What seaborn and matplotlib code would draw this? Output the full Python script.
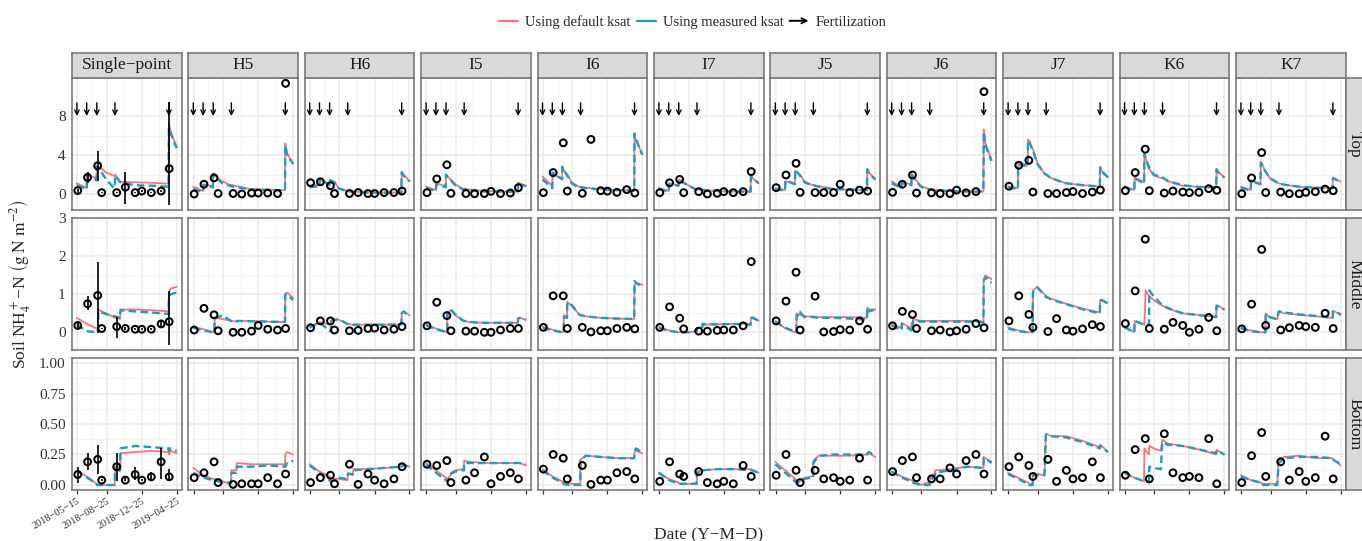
import matplotlib
matplotlib.use("Agg")
import numpy as np
import pandas as pd
import matplotlib.pyplot as plt
import matplotlib.dates as mdates
import seaborn as sns
from matplotlib.patches import FancyArrowPatch
from matplotlib.legend_handler import HandlerBase
from matplotlib.lines import Line2D

# ---------------- data ----------------
sites = ["Single\u2212point", "H5", "H6", "I5", "I6", "I7", "J5", "J6", "J7", "K6", "K7"]
layers = ["Top", "Middle", "Bottom"]
series_names = ["Using default ksat", "Using measured ksat"]

node_dates = ["2018-05-14", "2018-06-17", "2018-06-18", "2018-07-21", "2018-07-22",
              "2018-07-26", "2018-07-27", "2018-08-07", "2018-08-08", "2018-08-23",
              "2018-09-17", "2018-09-22", "2018-09-23", "2018-10-11", "2018-10-12",
              "2018-12-01", "2019-01-30", "2019-03-28", "2019-03-29", "2019-04-04",
              "2019-04-25"]
obs_dates = ["2018-05-17", "2018-06-20", "2018-07-25", "2018-08-08", "2018-09-29",
             "2018-10-29", "2018-12-02", "2018-12-25", "2019-01-27", "2019-03-02",
             "2019-03-30"]
fert_dates = ["2018-05-14", "2018-06-17", "2018-07-22", "2018-09-23", "2019-03-29"]
date_breaks = ["2018-05-15", "2018-08-25", "2018-12-25", "2019-04-25"]
date_labels = ["2018\u221205\u221215", "2018\u221208\u221225", "2018\u221212\u221225", "2019\u221204\u221225"]

top_default = [
    [1.1, 0.6, 2.0, 1.6, 2.9, 2.8, 2.8, 2.6, 2.6, 2.2, 1.9, 1.8, 2.0, 1.25, 1.25, 1.2, 1.15, 1.05, 7.3, 6.4, 4.8],
    [0.75, 0.3, 1.0, 0.8, 2.0, 1.9, 1.9, 1.6, 1.6, 1.3, 0.95, 0.9, 0.95, 0.8, 0.8, 0.5, 0.45, 0.4, 5.2, 4.2, 3.1],
    [0.9, 0.9, 1.5, 1.0, 1.4, 1.35, 1.35, 1.2, 1.2, 0.6, 0.35, 0.3, 0.35, 0.25, 0.25, 0.15, 0.15, 0.15, 2.3, 2.0, 1.3],
    [0.75, 0.4, 1.1, 0.8, 1.9, 1.8, 1.8, 1.5, 1.5, 1.0, 0.55, 0.5, 0.55, 0.45, 0.45, 0.3, 0.25, 0.25, 1.2, 1.1, 0.85],
    [1.8, 0.8, 2.0, 1.6, 2.7, 2.5, 2.5, 2.0, 2.0, 1.2, 0.75, 0.7, 0.75, 0.65, 0.65, 0.5, 0.4, 0.35, 6.0, 5.4, 4.1],
    [0.6, 0.3, 1.1, 0.9, 1.5, 1.45, 1.45, 1.2, 1.2, 0.9, 0.55, 0.5, 0.5, 0.4, 0.4, 0.3, 0.25, 0.25, 1.9, 1.6, 1.1],
    [0.6, 0.4, 1.3, 1.1, 2.4, 2.3, 2.3, 2.0, 2.0, 1.3, 0.95, 0.9, 0.9, 0.8, 0.8, 0.5, 0.45, 0.4, 2.6, 2.2, 1.5],
    [1.3, 0.7, 1.2, 1.0, 1.9, 1.8, 1.8, 1.4, 1.4, 0.8, 0.55, 0.5, 0.5, 0.4, 0.4, 0.3, 0.25, 0.25, 6.6, 5.2, 3.5],
    [0.8, 0.6, 3.2, 3.0, 5.6, 5.4, 5.4, 4.6, 4.6, 3.2, 2.1, 2.0, 2.0, 1.6, 1.6, 1.1, 0.9, 0.78, 2.8, 2.4, 1.7],
    [0.8, 0.4, 1.7, 1.2, 4.0, 3.6, 3.6, 2.6, 2.6, 1.9, 1.65, 1.6, 1.65, 1.3, 1.3, 0.85, 0.72, 0.7, 2.6, 2.3, 1.7],
    [0.75, 0.4, 1.4, 1.0, 3.3, 3.0, 3.0, 2.3, 2.3, 1.6, 1.15, 1.1, 1.1, 0.95, 0.95, 0.75, 0.65, 0.6, 1.7, 1.6, 1.25],
]
top_measured = [
    [0.9, 0.5, 2.1, 1.4, 2.8, 2.6, 2.6, 2.2, 2.2, 1.5, 0.7, 0.6, 1.9, 1.2, 1.2, 0.9, 0.85, 0.75, 6.8, 6.2, 4.7],
    [0.5, 0.2, 0.9, 0.7, 2.1, 1.9, 1.9, 1.5, 1.5, 1.1, 0.85, 0.8, 0.8, 0.7, 0.7, 0.45, 0.4, 0.4, 5.0, 4.0, 3.1],
    [0.7, 0.8, 1.6, 0.9, 1.5, 1.4, 1.4, 1.2, 1.2, 0.55, 0.32, 0.28, 0.3, 0.22, 0.22, 0.15, 0.15, 0.15, 2.2, 1.9, 1.3],
    [0.6, 0.3, 1.0, 0.7, 2.0, 1.8, 1.8, 1.4, 1.4, 0.9, 0.5, 0.45, 0.5, 0.4, 0.4, 0.25, 0.25, 0.25, 1.0, 1.0, 0.8],
    [1.5, 0.6, 2.2, 1.5, 2.8, 2.5, 2.5, 1.9, 1.9, 1.1, 0.65, 0.6, 0.7, 0.6, 0.6, 0.45, 0.4, 0.35, 6.2, 5.6, 4.0],
    [0.5, 0.25, 1.0, 0.85, 1.5, 1.4, 1.4, 1.15, 1.15, 0.85, 0.5, 0.45, 0.5, 0.4, 0.4, 0.3, 0.25, 0.25, 1.8, 1.6, 1.1],
    [0.5, 0.35, 1.4, 1.0, 2.5, 2.3, 2.3, 1.9, 1.9, 1.2, 0.9, 0.85, 0.9, 0.75, 0.75, 0.5, 0.45, 0.4, 2.5, 2.1, 1.5],
    [1.1, 0.6, 1.1, 0.9, 2.0, 1.8, 1.8, 1.3, 1.3, 0.75, 0.5, 0.45, 0.5, 0.4, 0.4, 0.3, 0.25, 0.25, 6.4, 5.0, 3.4],
    [0.7, 0.5, 3.0, 2.9, 5.5, 5.3, 5.3, 4.5, 4.5, 3.1, 2.1, 2.0, 2.0, 1.6, 1.6, 1.1, 0.9, 0.78, 2.7, 2.3, 1.7],
    [0.7, 0.35, 1.6, 1.1, 4.1, 3.7, 3.7, 2.7, 2.7, 2.0, 1.75, 1.7, 1.7, 1.35, 1.35, 0.9, 0.72, 0.68, 2.5, 2.2, 1.7],
    [0.65, 0.35, 1.35, 1.0, 3.2, 3.0, 3.0, 2.3, 2.3, 1.6, 1.2, 1.15, 1.15, 0.95, 0.95, 0.75, 0.65, 0.6, 1.6, 1.55, 1.2],
]
mid_default = [
    [0.38, 0.22, 0.22, 0.1, 0.1, 0.08, 0.6, 0.55, 0.55, 0.5, 0.4, 0.38, 0.38, 0.35, 0.6, 0.6, 0.58, 0.55, 1.05, 1.15, 1.2],
    [0.15, 0.08, 0.08, 0.01, 0.01, 0.0, 0.4, 0.37, 0.37, 0.35, 0.31, 0.3, 0.3, 0.28, 0.3, 0.3, 0.28, 0.27, 1.0, 1.05, 0.9],
    [0.15, 0.27, 0.27, 0.2, 0.2, 0.2, 0.3, 0.32, 0.32, 0.33, 0.24, 0.22, 0.22, 0.2, 0.2, 0.2, 0.2, 0.21, 0.5, 0.55, 0.45],
    [0.2, 0.1, 0.1, 0.02, 0.02, 0.0, 0.5, 0.58, 0.58, 0.45, 0.32, 0.3, 0.3, 0.27, 0.27, 0.25, 0.25, 0.25, 0.38, 0.38, 0.33],
    [0.15, 0.07, 0.07, 0.01, 0.01, 0.0, 0.45, 0.4, 0.8, 0.7, 0.48, 0.45, 0.45, 0.42, 0.42, 0.38, 0.36, 0.35, 1.25, 1.3, 1.25],
    [0.15, 0.05, 0.05, 0.0, 0.0, 0.0, 0.0, 0.0, 0.0, 0.0, 0.02, 0.02, 0.12, 0.12, 0.2, 0.21, 0.22, 0.22, 0.38, 0.4, 0.3],
    [0.3, 0.1, 0.1, 0.0, 0.0, 0.0, 0.5, 0.45, 0.55, 0.42, 0.42, 0.42, 0.42, 0.4, 0.4, 0.4, 0.4, 0.38, 0.65, 0.6, 0.6],
    [0.2, 0.12, 0.25, 0.1, 0.25, 0.2, 0.35, 0.33, 0.33, 0.3, 0.3, 0.3, 0.3, 0.3, 0.3, 0.3, 0.3, 0.28, 1.4, 1.5, 1.4],
    [0.13, 0.05, 0.05, 0.0, 0.0, 0.0, 0.0, 0.0, 1.1, 1.2, 1.0, 0.95, 0.95, 0.88, 0.88, 0.75, 0.62, 0.52, 0.85, 0.85, 0.78],
    [0.15, 0.0, 0.3, 0.2, 0.2, 1.1, 1.1, 0.95, 0.95, 0.85, 0.72, 0.7, 0.7, 0.62, 0.62, 0.5, 0.45, 0.4, 0.7, 0.7, 0.6],
    [0.1, 0.05, 0.05, 0.0, 0.0, 0.0, 0.0, 0.0, 0.5, 0.38, 0.34, 0.55, 0.55, 0.5, 0.5, 0.46, 0.42, 0.38, 0.55, 0.55, 0.45],
]
mid_measured = [
    [0.2, 0.03, 0.03, 0.0, 0.0, 0.0, 0.55, 0.52, 0.52, 0.48, 0.43, 0.42, 0.42, 0.38, 0.58, 0.55, 0.52, 0.48, 0.95, 1.0, 1.05],
    [0.12, 0.05, 0.05, 0.0, 0.0, 0.0, 0.35, 0.4, 0.4, 0.45, 0.32, 0.3, 0.3, 0.28, 0.3, 0.29, 0.28, 0.27, 1.0, 1.0, 0.85],
    [0.13, 0.25, 0.25, 0.05, 0.05, 0.02, 0.3, 0.33, 0.33, 0.35, 0.24, 0.22, 0.22, 0.2, 0.2, 0.2, 0.2, 0.21, 0.5, 0.55, 0.42],
    [0.18, 0.08, 0.08, 0.01, 0.01, 0.0, 0.55, 0.6, 0.6, 0.47, 0.32, 0.3, 0.3, 0.27, 0.27, 0.25, 0.25, 0.25, 0.36, 0.38, 0.33],
    [0.12, 0.05, 0.05, 0.0, 0.0, 0.0, 0.4, 0.38, 0.78, 0.72, 0.48, 0.45, 0.45, 0.42, 0.42, 0.38, 0.36, 0.35, 1.35, 1.3, 1.2],
    [0.12, 0.04, 0.04, 0.0, 0.0, 0.0, 0.0, 0.0, 0.0, 0.0, 0.02, 0.02, 0.1, 0.1, 0.22, 0.21, 0.22, 0.2, 0.38, 0.38, 0.3],
    [0.28, 0.12, 0.12, 0.02, 0.02, 0.0, 0.45, 0.42, 0.5, 0.4, 0.4, 0.4, 0.4, 0.38, 0.38, 0.38, 0.36, 0.33, 0.65, 0.55, 0.6],
    [0.18, 0.05, 0.22, 0.05, 0.2, 0.15, 0.3, 0.3, 0.3, 0.28, 0.28, 0.28, 0.28, 0.28, 0.28, 0.28, 0.28, 0.27, 1.35, 1.45, 1.3],
    [0.1, 0.03, 0.03, 0.0, 0.0, 0.0, 0.0, 0.0, 1.05, 1.18, 0.98, 0.93, 0.93, 0.86, 0.86, 0.74, 0.6, 0.5, 0.82, 0.85, 0.75],
    [0.13, 0.0, 0.3, 0.2, 0.2, 0.2, 0.2, 0.2, 1.1, 0.95, 0.75, 0.72, 0.72, 0.64, 0.64, 0.5, 0.45, 0.4, 0.7, 0.68, 0.6],
    [0.12, 0.03, 0.03, 0.0, 0.0, 0.0, 0.0, 0.0, 0.48, 0.4, 0.35, 0.55, 0.55, 0.52, 0.52, 0.47, 0.43, 0.38, 0.55, 0.56, 0.47],
]
bot_default = [
    [0.12, 0.07, 0.07, 0.01, 0.01, 0.0, 0.0, 0.0, 0.0, 0.0, 0.0, 0.0, 0.15, 0.15, 0.26, 0.27, 0.28, 0.27, 0.25, 0.28, 0.26],
    [0.14, 0.08, 0.08, 0.05, 0.05, 0.05, 0.05, 0.04, 0.04, 0.03, 0.01, 0.01, 0.12, 0.12, 0.18, 0.17, 0.17, 0.17, 0.25, 0.27, 0.25],
    [0.17, 0.11, 0.11, 0.07, 0.07, 0.06, 0.06, 0.05, 0.05, 0.05, 0.04, 0.04, 0.1, 0.08, 0.13, 0.13, 0.14, 0.15, 0.16, 0.17, 0.15],
    [0.18, 0.12, 0.12, 0.06, 0.06, 0.05, 0.05, 0.08, 0.1, 0.12, 0.13, 0.13, 0.2, 0.19, 0.19, 0.18, 0.18, 0.18, 0.18, 0.18, 0.16],
    [0.13, 0.07, 0.07, 0.03, 0.03, 0.02, 0.02, 0.01, 0.01, 0.01, 0.01, 0.01, 0.21, 0.24, 0.24, 0.23, 0.22, 0.22, 0.27, 0.28, 0.26],
    [0.1, 0.05, 0.05, 0.02, 0.02, 0.01, 0.01, 0.01, 0.01, 0.01, 0.01, 0.01, 0.11, 0.12, 0.12, 0.13, 0.13, 0.13, 0.13, 0.12, 0.1],
    [0.19, 0.12, 0.12, 0.05, 0.05, 0.04, 0.04, 0.03, 0.03, 0.06, 0.07, 0.07, 0.2, 0.24, 0.24, 0.24, 0.24, 0.25, 0.25, 0.26, 0.23],
    [0.11, 0.07, 0.07, 0.04, 0.04, 0.03, 0.03, 0.02, 0.02, 0.0, 0.02, 0.03, 0.05, 0.1, 0.12, 0.13, 0.15, 0.14, 0.23, 0.22, 0.19],
    [0.1, 0.06, 0.06, 0.02, 0.02, 0.01, 0.01, 0.0, 0.1, 0.09, 0.08, 0.42, 0.42, 0.4, 0.4, 0.4, 0.36, 0.31, 0.33, 0.32, 0.27],
    [0.1, 0.06, 0.06, 0.03, 0.3, 0.28, 0.28, 0.25, 0.32, 0.3, 0.28, 0.37, 0.37, 0.34, 0.34, 0.32, 0.29, 0.25, 0.29, 0.28, 0.25],
    [0.08, 0.04, 0.04, 0.02, 0.02, 0.01, 0.01, 0.01, 0.01, 0.01, 0.01, 0.2, 0.2, 0.23, 0.23, 0.24, 0.22, 0.22, 0.21, 0.2, 0.16],
]
bot_measured = [
    [0.12, 0.06, 0.06, 0.01, 0.0, 0.0, 0.0, 0.0, 0.0, 0.0, 0.0, 0.0, 0.1, 0.12, 0.3, 0.32, 0.31, 0.3, 0.28, 0.3, 0.28],
    [0.1, 0.06, 0.06, 0.04, 0.04, 0.04, 0.04, 0.03, 0.03, 0.02, 0.02, 0.02, 0.1, 0.1, 0.15, 0.15, 0.16, 0.15, 0.15, 0.18, 0.2],
    [0.16, 0.1, 0.1, 0.04, 0.04, 0.03, 0.03, 0.04, 0.04, 0.06, 0.05, 0.05, 0.09, 0.09, 0.12, 0.13, 0.14, 0.15, 0.16, 0.16, 0.15],
    [0.17, 0.1, 0.1, 0.04, 0.04, 0.03, 0.03, 0.07, 0.09, 0.11, 0.12, 0.12, 0.18, 0.18, 0.18, 0.18, 0.18, 0.18, 0.18, 0.18, 0.17],
    [0.12, 0.06, 0.06, 0.02, 0.02, 0.01, 0.01, 0.0, 0.0, 0.0, 0.0, 0.0, 0.2, 0.24, 0.24, 0.23, 0.22, 0.22, 0.28, 0.3, 0.26],
    [0.1, 0.04, 0.04, 0.01, 0.01, 0.01, 0.01, 0.01, 0.01, 0.01, 0.01, 0.01, 0.1, 0.11, 0.12, 0.13, 0.13, 0.12, 0.12, 0.12, 0.1],
    [0.17, 0.1, 0.1, 0.03, 0.03, 0.02, 0.02, 0.02, 0.02, 0.05, 0.06, 0.06, 0.18, 0.24, 0.24, 0.25, 0.25, 0.25, 0.26, 0.27, 0.24],
    [0.11, 0.06, 0.06, 0.03, 0.03, 0.02, 0.02, 0.01, 0.01, 0.0, 0.0, 0.0, 0.02, 0.08, 0.1, 0.12, 0.15, 0.14, 0.22, 0.22, 0.18],
    [0.09, 0.05, 0.05, 0.01, 0.01, 0.0, 0.0, 0.0, 0.08, 0.08, 0.08, 0.41, 0.41, 0.4, 0.4, 0.39, 0.35, 0.3, 0.32, 0.31, 0.27],
    [0.1, 0.06, 0.06, 0.03, 0.03, 0.03, 0.03, 0.03, 0.15, 0.14, 0.13, 0.35, 0.35, 0.33, 0.33, 0.32, 0.29, 0.26, 0.28, 0.28, 0.25],
    [0.07, 0.04, 0.04, 0.02, 0.01, 0.0, 0.0, 0.0, 0.0, 0.0, 0.0, 0.18, 0.18, 0.22, 0.22, 0.23, 0.23, 0.22, 0.21, 0.2, 0.17],
]

top_obs = [
    [0.35, 1.7, 2.9, 0.14, 0.14, 0.7, 0.14, 0.3, 0.14, 0.3, 2.6],
    [0.0, 1.0, 1.65, 0.05, 0.05, 0.0, 0.1, 0.1, 0.1, 0.05, 11.35],
    [1.15, 1.25, 0.85, 0.05, 0.05, 0.15, 0.05, 0.05, 0.15, 0.15, 0.3],
    [0.14, 1.55, 3.0, 0.07, 0.05, 0.03, 0.05, 0.27, 0.05, 0.1, 0.65],
    [0.14, 2.2, 5.25, 0.3, 0.07, 5.6, 0.34, 0.3, 0.17, 0.45, 0.1],
    [0.14, 1.15, 1.5, 0.14, 0.24, 0.0, 0.07, 0.24, 0.14, 0.24, 2.3],
    [0.65, 1.95, 3.15, 0.17, 0.15, 0.15, 0.15, 1.0, 0.15, 0.4, 0.3],
    [0.17, 1.0, 1.95, 0.1, 0.12, 0.05, 0.05, 0.4, 0.12, 0.25, 10.5],
    [0.8, 2.95, 3.45, 0.2, 0.05, 0.05, 0.15, 0.25, 0.05, 0.2, 0.4],
    [0.34, 2.2, 4.6, 0.34, 0.1, 0.3, 0.2, 0.14, 0.17, 0.55, 0.38],
    [0.03, 1.65, 4.25, 0.15, 0.2, 0.03, 0.03, 0.17, 0.24, 0.5, 0.34],
]
mid_obs = [
    [0.18, 0.75, 0.97, 0.1, 0.15, 0.1, 0.08, 0.08, 0.08, 0.22, 0.28],
    [0.06, 0.63, 0.46, 0.04, 0.0, 0.0, 0.03, 0.18, 0.08, 0.06, 0.1],
    [0.12, 0.3, 0.3, 0.06, 0.04, 0.05, 0.1, 0.11, 0.06, 0.08, 0.15],
    [0.17, 0.79, 0.44, 0.04, 0.03, 0.03, 0.0, 0.0, 0.06, 0.1, 0.1],
    [0.13, 0.96, 0.96, 0.1, 0.13, 0.01, 0.04, 0.04, 0.1, 0.13, 0.09],
    [0.13, 0.67, 0.37, 0.09, 0.03, 0.03, 0.05, 0.06, 0.06, 0.17, 1.86],
    [0.3, 0.82, 1.58, 0.06, 0.95, 0.01, 0.02, 0.07, 0.06, 0.3, 0.08],
    [0.17, 0.55, 0.47, 0.1, 0.04, 0.06, 0.01, 0.04, 0.08, 0.23, 0.12],
    [0.3, 0.96, 0.47, 0.13, 0.02, 0.36, 0.06, 0.03, 0.09, 0.2, 0.15],
    [0.23, 1.09, 2.45, 0.1, 0.08, 0.26, 0.18, 0.0, 0.08, 0.39, 0.04],
    [0.09, 0.74, 2.18, 0.18, 0.06, 0.12, 0.18, 0.15, 0.13, 0.5, 0.1],
]
bot_obs = [
    [0.086, 0.19, 0.21, 0.04, 0.15, 0.04, 0.086, 0.04, 0.067, 0.19, 0.067],
    [0.06, 0.1, 0.19, 0.02, 0.005, 0.01, 0.01, 0.01, 0.06, 0.01, 0.09],
    [0.02, 0.06, 0.08, 0.01, 0.17, 0.005, 0.09, 0.04, 0.01, 0.05, 0.15],
    [0.17, 0.16, 0.2, 0.02, 0.04, 0.1, 0.23, 0.01, 0.07, 0.1, 0.05],
    [0.13, 0.25, 0.22, 0.05, 0.16, 0.005, 0.04, 0.04, 0.1, 0.11, 0.05],
    [0.03, 0.19, 0.09, 0.07, 0.11, 0.02, 0.01, 0.03, 0.01, 0.16, 0.07],
    [0.08, 0.25, 0.12, 0.02, 0.12, 0.05, 0.06, 0.03, 0.04, 0.22, 0.04],
    [0.11, 0.2, 0.23, 0.06, 0.05, 0.05, 0.14, 0.09, 0.2, 0.25, 0.09],
    [0.15, 0.23, 0.16, 0.07, 0.21, 0.03, 0.12, 0.05, 0.06, 0.19, 0.06],
    [0.08, 0.29, 0.38, 0.05, 0.42, 0.1, 0.06, 0.07, 0.06, 0.38, 0.01],
    [0.02, 0.24, 0.43, 0.07, 0.19, 0.04, 0.11, 0.03, 0.06, 0.4, 0.05],
]

# error bars (single-point panels only): lower / upper bounds
sp_top_lo = [0.15, 1.1, 1.3, 0.1, 0.1, -1.05, 0.1, 0.2, 0.1, 0.2, -1.15]
sp_top_hi = [0.55, 2.3, 4.4, 0.2, 0.2, 2.3, 0.2, 0.4, 0.2, 0.4, 9.4]
sp_mid_lo = [0.06, 0.59, -0.03, 0.08, -0.14, 0.07, 0.06, 0.06, 0.06, 0.1, -0.33]
sp_mid_hi = [0.28, 0.96, 1.84, 0.12, 0.41, 0.13, 0.1, 0.1, 0.1, 0.32, 1.09]
sp_bot_lo = [0.015, 0.12, 0.09, 0.03, 0.03, 0.03, 0.04, 0.03, 0.03, 0.05, 0.04]
sp_bot_hi = [0.15, 0.26, 0.33, 0.05, 0.26, 0.06, 0.15, 0.05, 0.11, 0.30, 0.13]

y_ticks_top = [0, 4, 8]
y_ticks_mid = [0, 1, 2, 3]
y_ticks_bot = [0.0, 0.25, 0.5, 0.75, 1.0]
y_labels_top = ["0", "4", "8"]
y_labels_mid = ["0", "1", "2", "3"]
y_labels_bot = ["0.00", "0.25", "0.50", "0.75", "1.00"]

# ---------------- build long tables ----------------
line_tables = {"Top": (top_default, top_measured), "Middle": (mid_default, mid_measured),
               "Bottom": (bot_default, bot_measured)}
obs_tables = {"Top": top_obs, "Middle": mid_obs, "Bottom": bot_obs}
err_tables = {"Top": (sp_top_lo, sp_top_hi), "Middle": (sp_mid_lo, sp_mid_hi),
              "Bottom": (sp_bot_lo, sp_bot_hi)}

rows = []
for layer in layers:
    dflt, meas = line_tables[layer]
    for si, site in enumerate(sites):
        for name, vals in zip(series_names, (dflt[si], meas[si])):
            for d, v in zip(node_dates, vals):
                rows.append((layer, site, name, pd.Timestamp(d), v))
lines_df = pd.DataFrame(rows, columns=["layer", "site", "series", "date", "value"])

rows = []
for layer in layers:
    for si, site in enumerate(sites):
        for d, v in zip(obs_dates, obs_tables[layer][si]):
            rows.append((layer, site, pd.Timestamp(d), v))
obs_df = pd.DataFrame(rows, columns=["layer", "site", "date", "value"])

# ---------------- style ----------------
sns.set_theme(style="white")
plt.rcParams["font.family"] = ["Liberation Serif", "DejaVu Serif"]
plt.rcParams["mathtext.fontset"] = "stix"

RED = "#F8766D"
BLUE = "#1C9BC6"
palette = {series_names[0]: RED, series_names[1]: BLUE}
dashes = {series_names[0]: "", series_names[1]: (3.2, 1.8)}
BORDER = "#7A7A7A"
TICKC = "#333333"

W, H = 1362, 541
fig = plt.figure(figsize=(W / 100, H / 100), dpi=100)
fig.patch.set_facecolor("white")

col_left = [72 + 116.4 * c for c in range(len(sites))]
panel_w = 109.6
row_top = [77.7, 218.0, 358.0]
row_bot = [210.0, 350.0, 490.0]
ylims = [(-1.64, 11.93), (-0.466, 3.008), (-0.041, 1.041)]
yticks = [y_ticks_top, y_ticks_mid, y_ticks_bot]
ylabels = [y_labels_top, y_labels_mid, y_labels_bot]

xb = mdates.date2num(pd.to_datetime(date_breaks))
x_minor = (xb[:-1] + xb[1:]) / 2
xlim = mdates.date2num(pd.to_datetime(["2018-04-27", "2019-05-12"]))
fert_num = mdates.date2num(pd.to_datetime(fert_dates))
obs_num = mdates.date2num(pd.to_datetime(obs_dates))


def style_spines(ax):
    for s in ax.spines.values():
        s.set_visible(True)
        s.set_color(BORDER)
        s.set_linewidth(1.2)


for r, layer in enumerate(layers):
    for c, site in enumerate(sites):
        rect = [col_left[c] / W, 1 - row_bot[r] / H, panel_w / W, (row_bot[r] - row_top[r]) / H]
        ax = fig.add_axes(rect)
        ax.set_facecolor("white")
        sub = lines_df[(lines_df.layer == layer) & (lines_df.site == site)]
        sns.lineplot(data=sub, x="date", y="value", hue="series", style="series",
                     hue_order=series_names, style_order=series_names,
                     palette=palette, dashes=dashes, estimator=None, sort=False,
                     legend=False, ax=ax, zorder=2)
        for ln in ax.get_lines():
            col = ln.get_color()
            if isinstance(col, str) and col.lower() == BLUE.lower():
                ln.set_linewidth(1.7)
            else:
                ln.set_linewidth(1.3)
        if c == 0:
            lo, hi = err_tables[layer]
            ax.vlines(obs_num, lo, hi, color="black", lw=1.2, zorder=3)
        osub = obs_df[(obs_df.layer == layer) & (obs_df.site == site)]
        sns.scatterplot(data=osub, x="date", y="value", ax=ax, marker="o", s=24,
                        facecolor="none", edgecolor="black", linewidth=1.45,
                        legend=False, zorder=4)
        if r == 0:
            for fx in fert_num:
                ax.annotate("", xy=(fx, 8.0), xytext=(fx, 9.35),
                            arrowprops=dict(arrowstyle="->", color="black", lw=1.0,
                                            shrinkA=0, shrinkB=0, mutation_scale=8),
                            zorder=5)
        ax.set_xlim(*xlim)
        ax.set_ylim(*ylims[r])
        ax.set_xticks(xb)
        ax.set_xticks(x_minor, minor=True)
        yt = np.array(yticks[r], dtype=float)
        ax.set_yticks(yt)
        ax.set_yticks((yt[:-1] + yt[1:]) / 2, minor=True)
        ax.grid(True, which="major", color="#EBEBEB", lw=1.1)
        ax.grid(True, which="minor", color="#F4F4F4", lw=0.7)
        ax.set_axisbelow(True)
        ax.set_xlabel("")
        ax.set_ylabel("")
        style_spines(ax)
        ax.tick_params(which="minor", length=0)
        ax.tick_params(which="major", direction="out", length=3, width=0.9, color=TICKC,
                       labelcolor=TICKC, labelsize=11, pad=1.5)
        if c == 0:
            ax.set_yticklabels(ylabels[r])
        else:
            ax.tick_params(axis="y", left=False, labelleft=False)
        if r == 2:
            ax.tick_params(axis="x", bottom=True)
            if c == 0:
                ax.set_xticklabels(date_labels, rotation=30, ha="right",
                                   rotation_mode="anchor", fontsize=7.5)
            else:
                ax.tick_params(axis="x", labelbottom=False)
        else:
            ax.tick_params(axis="x", bottom=False, labelbottom=False)

        # top strips
        if r == 0:
            sax = fig.add_axes([col_left[c] / W, 1 - 77.5 / H, panel_w / W, 25.0 / H])
            sax.set_facecolor("#D9D9D9")
            sax.set_xticks([]); sax.set_yticks([])
            style_spines(sax)
            sax.text(0.5, 0.5, site, ha="center", va="center", fontsize=12.5,
                     color="#1A1A1A", transform=sax.transAxes)
        # right strips
        if c == len(sites) - 1:
            rax = fig.add_axes([1346.0 / W, 1 - row_bot[r] / H, 25.0 / W,
                                (row_bot[r] - row_top[r]) / H])
            rax.set_facecolor("#D9D9D9")
            rax.set_xticks([]); rax.set_yticks([])
            style_spines(rax)
            fig.text(1354.5 / W, 1 - (row_top[r] + row_bot[r]) / 2 / H, layer,
                     rotation=-90, ha="center", va="center", fontsize=12.5, color="#1A1A1A")

# axis titles
fig.text(21 / W, 1 - 284 / H, r"Soil NH$_4^+$" + "\u2212N " + r"$\left(\mathrm{g\ N\ m^{-2}}\right)$",
         rotation=90, ha="center", va="center", fontsize=12.5)
fig.text(708.5 / W, 1 - 535 / H, "Date (Y\u2212M\u2212D)", ha="center", va="center", fontsize=12.5)


# legend
class ArrowHandler(HandlerBase):
    def create_artists(self, legend, orig_handle, xdescent, ydescent, width, height,
                       fontsize, trans):
        y = height / 2 - ydescent
        arr = FancyArrowPatch((-xdescent, y), (width - xdescent, y), arrowstyle="->",
                              mutation_scale=9, lw=1.4, color="black",
                              shrinkA=0, shrinkB=0, transform=trans)
        return [arr]


arrow_handle = FancyArrowPatch((0, 0), (1, 0))
handles = [Line2D([], [], color=RED, lw=1.6), Line2D([], [], color=BLUE, lw=1.6), arrow_handle]
fig.legend(handles, series_names + ["Fertilization"], loc="center",
           bbox_to_anchor=(693 / W, 1 - 22 / H), ncol=3, frameon=False, fontsize=10.5,
           handlelength=1.3, handletextpad=0.5, columnspacing=0.4,
           handler_map={arrow_handle: ArrowHandler()})

fig.savefig("out.png", dpi=100, facecolor="white")
